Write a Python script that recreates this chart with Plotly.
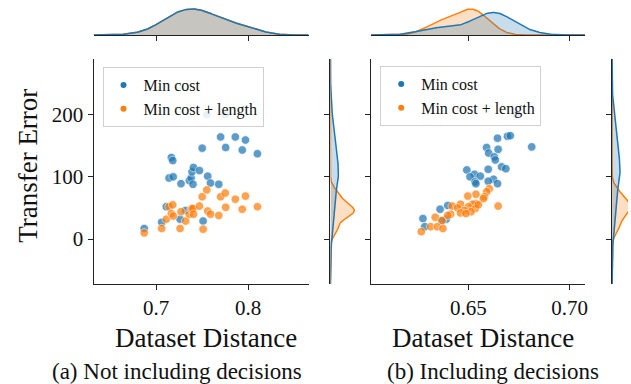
import numpy as np
import plotly.graph_objects as go

W, H = 631, 384
BLUE = "#1f77b4"
ORANGE = "#ff7f0e"
FONT = "Liberation Serif, Times New Roman, serif"

# ---------------- data ----------------
# (a) Not including decisions: same dataset distances for both methods
a_dist = [0.687, 0.706, 0.711, 0.714, 0.7165, 0.718, 0.7185, 0.726, 0.727, 0.732,
          0.736, 0.738, 0.739, 0.740, 0.7405, 0.747, 0.750, 0.751, 0.755, 0.756,
          0.759, 0.768, 0.770, 0.775, 0.7755, 0.786, 0.7935, 0.797, 0.810]
a_err_cost = [17, 27, 52, 98, 131, 126, 100, 32, 89, 46,
              94, 98, 108, 88, 115, 110, 146, 29, 200, 101,
              90, 88, 164, 200, 147, 164, 143, 159, 137]
a_err_cost_len = [10, 17, 32, 52, 41, 55, 37, 17, 44, 29,
                  40, 48, 49, 49, 40, 53, 68, 16, 79, 45,
                  40, 38, 68, 74, 51, 64, 48, 69, 52]

# (b) Including decisions
b_dist_cost = [0.6734, 0.6739, 0.6693, 0.6707, 0.6644, 0.6813, 0.659, 0.6647, 0.660, 0.6628,
               0.6633, 0.6664, 0.6685, 0.6598, 0.6492, 0.653, 0.6508, 0.6559, 0.6624, 0.6533,
               0.6537, 0.6644, 0.6598, 0.636, 0.6398, 0.6275, 0.639, 0.6284, 0.6369]
b_err_cost = [200, 200, 165, 166, 162, 148, 147, 144, 138, 132,
              127, 116, 113, 112, 111, 104, 100, 101, 96, 92,
              89, 89, 93, 48, 54, 33, 32, 20, 29]
b_dist_cost_len = [0.6603, 0.659, 0.6579, 0.6537, 0.6497, 0.6574, 0.6537, 0.6521, 0.6461, 0.642,
                   0.6647, 0.650, 0.6447, 0.6534, 0.648, 0.6513, 0.6461, 0.6488, 0.6412, 0.6398,
                   0.6336, 0.6369, 0.6313, 0.6346, 0.6374, 0.6267, 0.6549]
b_err_cost_len = [81, 76, 68, 72, 69, 65, 57, 56, 56, 53,
                  53, 52, 50, 49, 46, 44, 42, 41, 40, 38,
                  35, 30, 20, 20, 17, 12, 55]

series_names = ["Min cost", "Min cost + length"]
a_xticks = [0.7, 0.8]
a_xticktext = ["0.7", "0.8"]
b_xticks = [0.65, 0.70]
b_xticktext = ["0.65", "0.70"]
yticks = [0, 100, 200]

a_xrange = [0.632, 0.8655]
b_xrange = [0.6018, 0.7076]
yrange = [-72, 289]


def kde(vals, grid, total):
    v = np.asarray(vals, float)
    n = len(v)
    bw = v.std(ddof=1) * n ** (-0.2)
    d = np.exp(-0.5 * ((grid[:, None] - v[None, :]) / bw) ** 2).sum(1)
    d /= n * bw * np.sqrt(2 * np.pi)
    return d * n / total


def fx(px):
    return px / W


def fy(py):
    return 1 - py / H


fig = go.Figure()


def rgba(hexc, a):
    h = hexc.lstrip("#")
    return "rgba(%d,%d,%d,%.2f)" % (int(h[0:2], 16), int(h[2:4], 16), int(h[4:6], 16), a)


def panel(k, xs_c, ys_c, xs_l, ys_l, xr, xt, xtt, xdom, top_peak_px, right_dom, right_ref_px,
          right_ref_which, legend_name, legend_pos, show_ylabels):
    ax_main, ax_top, ax_right = 3 * k + 1, 3 * k + 2, 3 * k + 3
    def nm(i, a):
        return a + ("" if i == 1 else str(i))

    total = len(xs_c) + len(xs_l)
    # scatter: blue first then orange
    for xs, ys, col in [(xs_c, ys_c, BLUE), (xs_l, ys_l, ORANGE)]:
        fig.add_trace(go.Scatter(x=xs, y=ys, mode="markers", showlegend=False,
                                 marker=dict(size=8.5, color=col, opacity=0.72,
                                             line=dict(color="white", width=0.7)),
                                 xaxis=nm(ax_main, "x"), yaxis=nm(ax_main, "y")))
    # legend entries
    for name, col in zip(series_names, [BLUE, ORANGE]):
        fig.add_trace(go.Scatter(x=[None], y=[None], mode="markers", name=name,
                                 marker=dict(size=6, color=col), legend=legend_name,
                                 xaxis=nm(ax_main, "x"), yaxis=nm(ax_main, "y")))
    # top marginal
    gx = np.linspace(xr[0], xr[1], 300)
    dx_c = kde(xs_c, gx, total)
    dx_l = kde(xs_l, gx, total)
    for d, col in [(dx_l, ORANGE), (dx_c, BLUE)]:
        fig.add_trace(go.Scatter(x=gx, y=d, mode="lines", fill="tozeroy", showlegend=False,
                                 line=dict(color=col, width=1.5), fillcolor=rgba(col, 0.25),
                                 xaxis=nm(ax_top, "x"), yaxis=nm(ax_top, "y")))
    top_max = max(dx_c.max(), dx_l.max()) * 35.0 / (35.0 - top_peak_px)
    # right marginal
    gy = np.linspace(yrange[0], yrange[1], 300)
    dy_c = kde(ys_c, gy, total)
    dy_l = kde(ys_l, gy, total)
    for d, col in [(dy_l, ORANGE), (dy_c, BLUE)]:
        fig.add_trace(go.Scatter(x=d, y=gy, mode="lines", fill="tozerox", showlegend=False,
                                 line=dict(color=col, width=1.5), fillcolor=rgba(col, 0.25),
                                 xaxis=nm(ax_right, "x"), yaxis=nm(ax_right, "y")))
    ref = dy_c.max() if right_ref_which == "c" else dy_l.max()
    right_max = ref * (right_dom[1] - right_dom[0]) / (right_ref_px - right_dom[0])

    tickstyle = dict(ticks="outside", ticklen=5, tickwidth=1, tickcolor="#222",
                     showline=True, linecolor="#222", linewidth=1, showgrid=False,
                     zeroline=False)
    tf = dict(family=FONT, size=21, color="#111")
    fig.layout[nm(ax_main, "xaxis")] = dict(domain=[fx(xdom[0]), fx(xdom[1])], range=xr,
                                            anchor=nm(ax_main, "y"), tickvals=xt, ticktext=xtt,
                                            tickfont=tf, **tickstyle)
    fig.layout[nm(ax_main, "yaxis")] = dict(domain=[fy(284), fy(59)], range=yrange,
                                            anchor=nm(ax_main, "x"), tickvals=yticks,
                                            showticklabels=show_ylabels, tickfont=tf, **tickstyle)
    fig.layout[nm(ax_top, "xaxis")] = dict(domain=[fx(xdom[0]), fx(xdom[1])], range=xr,
                                           anchor=nm(ax_top, "y"), tickvals=xt,
                                           showticklabels=False, **tickstyle)
    fig.layout[nm(ax_top, "yaxis")] = dict(domain=[fy(35), 1.0], range=[0, top_max],
                                           anchor=nm(ax_top, "x"), visible=False)
    fig.layout[nm(ax_right, "xaxis")] = dict(domain=[fx(right_dom[0]), fx(right_dom[1])],
                                             range=[0, right_max], anchor=nm(ax_right, "y"),
                                             visible=False)
    fig.layout[nm(ax_right, "yaxis")] = dict(domain=[fy(284), fy(59)], range=yrange,
                                             anchor=nm(ax_right, "x"), tickvals=yticks,
                                             showticklabels=False, **tickstyle)
    fig.layout[legend_name] = dict(x=fx(legend_pos[0]), y=fy(legend_pos[1]),
                                   xanchor="left", yanchor="top",
                                   bgcolor="rgba(255,255,255,0.85)", bordercolor="#d0d0d0",
                                   borderwidth=1, font=dict(family=FONT, size=16, color="#111"),
                                   itemwidth=30, tracegroupgap=0)


panel(0, a_dist, a_err_cost, a_dist, a_err_cost_len, a_xrange, a_xticks, a_xticktext,
      (94, 310), 9, (332, 375), 356, "l", "legend", (103, 67), True)
panel(1, b_dist_cost, b_err_cost, b_dist_cost_len, b_err_cost_len, b_xrange, b_xticks,
      b_xticktext, (372.7, 587.7), 9, (615, 631), 623, "c", "legend2", (382, 66), False)

ann = []
ann.append(dict(text="Transfer Error", x=fx(28), y=fy(166), textangle=-90,
                font=dict(family=FONT, size=27, color="#111")))
ann.append(dict(text="Dataset Distance", x=fx(207), y=fy(338),
                font=dict(family=FONT, size=27, color="#111")))
ann.append(dict(text="Dataset Distance", x=fx(485), y=fy(338),
                font=dict(family=FONT, size=27, color="#111")))
ann.append(dict(text="(a) Not including decisions", x=fx(178), y=fy(371),
                font=dict(family=FONT, size=23, color="#111")))
ann.append(dict(text="(b) Including decisions", x=fx(495), y=fy(371),
                font=dict(family=FONT, size=23, color="#111")))
for a in ann:
    a.update(xref="paper", yref="paper", showarrow=False, xanchor="center", yanchor="middle")

fig.update_layout(width=W, height=H, margin=dict(l=0, r=0, t=0, b=0),
                  paper_bgcolor="white", plot_bgcolor="rgba(0,0,0,0)",
                  annotations=ann, font=dict(family=FONT, color="#111"))

fig.write_html("out.html", config={"displayModeBar": False},
               post_script="document.body.style.margin='0px';document.body.style.padding='0px';")
